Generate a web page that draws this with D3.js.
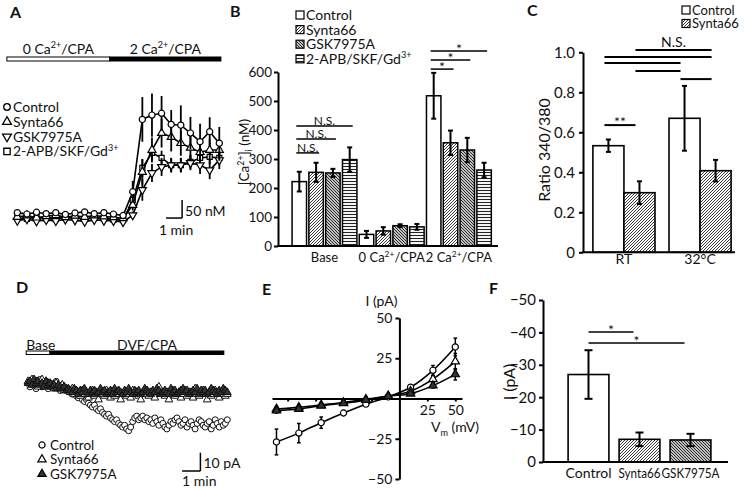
<!DOCTYPE html>
<html><head><meta charset="utf-8">
<script src="https://cdn.jsdelivr.net/npm/d3@7"></script>
<style>
body{margin:0;background:#fff}
text{font-family:Lato,'Open Sans',sans-serif;fill:#111}
</style>
</head><body>
<svg id="c" width="750" height="489"></svg>
<script>
// ---------------- DATA ----------------
// Panel A: [Ca2+]i time course (nM), sampled every 0.6 min
const timeA = [0,0.6,1.2,1.8,2.4,3.0,3.6,4.2,4.8,5.4,6.0,6.6,7.2,7.8,8.4,9.0,9.6,10.2,10.8,11.4,12.0,12.6];
const controlA    = [226,222,227,223,226,221,225,228,223,226,222,218,284,485,497,502,471,469,447,423,451,419];
const controlAErr = [6,5,6,5,6,5,6,5,6,5,6,6,30,62,60,48,40,55,45,50,40,45];
const synta66A    = [214,218,212,216,219,213,217,214,218,215,213,210,247,339,400,447,436,419,406,394,400,400];
const synta66AErr = [5,5,5,5,5,5,5,5,5,5,5,5,15,35,35,40,40,35,30,30,30,30];
const gskA        = [204,208,202,206,203,207,205,201,206,204,203,200,219,289,336,353,358,358,364,358,344,372];
const gskAErr     = [5,5,5,5,5,5,5,5,5,5,5,5,10,30,25,25,20,20,20,25,25,25];
const apbA        = [211,209,214,210,208,213,211,209,212,210,207,205,261,350,392,378,358,358,367,378,381,378];
const apbAErr     = [5,5,5,5,5,5,5,5,5,5,5,5,15,25,20,20,20,20,20,20,20,20];
const seriesLabelsA = ["Control","Synta66","GSK7975A","2-APB/SKF/Gd^{3+}"];

// Panel B: [Ca2+]i bar chart (nM)
const groupsB = ["Base","0 Ca^{2+}/CPA","2 Ca^{2+}/CPA"];
const seriesB = ["Control","Synta66","GSK7975A","2-APB/SKF/Gd^{3+}"];
const controlB = [222, 40, 518];   const controlBErr = [34, 12, 79];
const synta66B = [254, 52, 356];   const synta66BErr = [33, 13, 42];
const gskB     = [252, 70, 331];   const gskBErr     = [14, 5, 42];
const apbB     = [298, 66, 262];   const apbBErr     = [42, 10, 25];
const ticksB = [0,100,200,300,400,500,600];

// Panel C: Ratio 340/380
const conditionsC = ["RT","32°C"];
const seriesC = ["Control","Synta66"];
const controlC = [0.533, 0.67];  const controlCErr = [0.031, 0.162];
const synta66C = [0.298, 0.408]; const synta66CErr = [0.057, 0.054];
const ticksC = [0,0.2,0.4,0.6,0.8,1.0];

// Panel D: current time course (pA), sampled every 0.11 min
const controlD = [1,-1,2,0,-2,1,3,-1,0,2,-2,1,-1,0,2,-1,-3,0,
  -2,-3,-2,-4,-5,-4,-6,-7,-6,-8,-9,-8,-10,-11,-12,-11,-13,-14,-13,-15,-16,-17,-16,-18,-19,-20,-19,-21,-22,-23,-22,-24,-25,
  -23,-20,-18,-17,-19,-18,-17,-19,-18,-20,-19,-21,-18,-20,-22,-19,-21,-23,-24,-22,-20,-21,-19,-18,-20,-22,-21,-19,-23,-21,-20,-22,-24,-21,-19,-20,-22,-23,-21,-20,-24,-22,-19,-21,-23,-20,-22,-21,-19];
const synta66D = [2,1,3,0,2,-1,1,3,0,2,1,-1,0,-2,1,-1,-2,0,-3,-2,
  -3,-4,-2,-5,-3,-4,-6,-3,-5,-4,-7,-5,-3,-6,-4,-8,-5,-4,-6,-3,
  -5,-7,-4,-6,-5,-3,-8,-5,-4,-6,-5,-7,-3,-5,-4,-6,-8,-4,-5,-3,
  -6,-4,-5,-7,-3,-1,-5,-4,-6,-5,-8,-4,-3,-6,-5,-4,-7,-5,-3,-6,
  -4,-5,-7,-2,-5,-6,-4,-3,-5,-8,-4,-6,-5,-3,-4,-7,-5,-4,-6,-5];
const gskD = [1,2,0,3,1,2,0,1,-1,2,0,1,-1,0,-2,0,-1,-2,-1,-3,
  -2,-3,-4,-2,-3,-5,-3,-4,-2,-4,-5,-3,-4,-3,-5,-4,-2,-4,-3,-5,
  -4,-3,-5,-2,-4,-3,-4,-5,-3,-4,-2,-4,-5,-3,-4,-3,-5,-4,-2,-3,
  -4,-5,-3,-4,-2,-3,-5,-4,-3,-4,-5,-2,-4,-3,-5,-4,-3,-2,-4,-3,
  -5,-4,-3,-4,-2,-5,-3,-4,-3,-5,-4,-2,-3,-4,-5,-3,-4,-2,-3,-4];
const sampleIntervalD = 0.11;

// Panel E: I-V relationship
const voltageE = [-110,-90,-70,-50,-30,-10,10,30,50];
const controlE = [-27,-21.5,-15,-9,-3.5,1,7,17.5,32];   const controlEErr = [8,6,3.5,1.5,1,0.5,1,3,5.5];
const synta66E = [-6.5,-5.5,-4,-2.5,-0.5,1.5,4.5,12,23]; const synta66EErr = [1.5,1.2,1,0.8,0.5,0.5,1,2,5];
const gskE     = [-7.5,-6.5,-4.5,-3,-1,1.5,3,8,15];      const gskEErr = [1.5,1.2,1,0.8,0.5,0.5,1,1.5,3.5];

// Panel F: current at -110 mV
const conditionsF = ["Control","Synta66","GSK7975A"];
const currentF = [-27, -7, -6.8];
const currentFErr = [7.5, 2.1, 1.9];
const ticksF = [0,-10,-20,-30,-40,-50];

// ---------------- HELPERS ----------------
const svg = d3.select('#c');
const defs = svg.append('defs');
function pattern(id,w,h,d,sw){
  const p = defs.append('pattern').attr('id',id).attr('patternUnits','userSpaceOnUse').attr('width',w).attr('height',h);
  p.append('rect').attr('width',w).attr('height',h).attr('fill','#fff');
  p.append('path').attr('d',d).attr('stroke','#222').attr('stroke-width',sw).attr('fill','none');
}
pattern('fwd',3,3,'M-1,1 l2,-2 M0,3 l3,-3 M2,4 l2,-2',0.9);
pattern('back',3,3,'M-1,2 l2,2 M0,0 l3,3 M2,-1 l2,2',1.1);
pattern('horiz',4,3,'M0,1.5 H4',1.1);
const fills = {"Control":"#fff","Synta66":"url(#fwd)","GSK7975A":"url(#back)","2-APB/SKF/Gd^{3+}":"url(#horiz)"};

function rich(sel,str,size){
  const re=/(\^|_)\{([^}]*)\}/g; let last=0,m,off=0;
  const add=(t,small,dy)=>{const ts=sel.append('tspan').text(t); if(small) ts.attr('font-size',size*0.65); if(dy) ts.attr('dy',dy);};
  while((m=re.exec(str))){
    if(m.index>last){add(str.slice(last,m.index),false,-off);off=0;}
    const d = m[1]==='^' ? -size*0.4 : size*0.25;
    add(m[2],true,d-off); off=d; last=re.lastIndex;
  }
  if(last<str.length){add(str.slice(last),false,-off);}
  return sel;
}
function txt(x,y,str,size,anchor,extra){
  const t = svg.append('text').attr('x',x).attr('y',y).attr('font-size',size).attr('text-anchor',anchor||'start');
  if(extra) extra(t);
  return rich(t,str,size);
}
function vline(g,x,y1,y2,sw,cap){
  g.append('line').attr('x1',x).attr('x2',x).attr('y1',y1).attr('y2',y2).attr('stroke','#000').attr('stroke-width',sw);
  if(cap){[y1,y2].forEach(y=>g.append('line').attr('x1',x-cap).attr('x2',x+cap).attr('y1',y).attr('y2',y).attr('stroke','#000').attr('stroke-width',sw));}
}
function hline(g,x1,x2,y,sw){g.append('line').attr('x1',x1).attr('x2',x2).attr('y1',y).attr('y2',y).attr('stroke','#000').attr('stroke-width',sw);}
function styleAxis(g){
  g.select('.domain').attr('stroke','#000').attr('stroke-width',2);
  g.selectAll('.tick line').attr('stroke','#000').attr('stroke-width',2);
  g.selectAll('.tick text').attr('font-size',14).attr('font-family',"Lato,'Open Sans',sans-serif").attr('fill','#111');
}
const sym = t=>d3.symbol().type(t);

// Panel letters
[["A",10,18],["B",230,17],["C",527,16],["D",16,293],["E",262,295],["F",489,294]].forEach(([l,x,y])=>{
  svg.append('text').attr('x',x).attr('y',y).attr('font-size',16).attr('font-weight','bold').attr('font-family',"'Liberation Sans',Arial,sans-serif").text(l);
});

// ---------------- PANEL A ----------------
{
  const xA = d3.scaleLinear().domain([0,12.6]).range([17.3,219.3]);
  const yA = d3.scaleLinear().domain([200,500]).range([222,114]);
  const g = svg.append('g');
  const protocolA = [{label:"0 Ca^{2+}/CPA",start:-0.65,end:5.77,fill:"#fff"},{label:"2 Ca^{2+}/CPA",start:5.77,end:12.7,fill:"#000"}];
  protocolA.forEach(p=>{
    g.append('rect').attr('x',xA(p.start)).attr('y',57).attr('width',xA(p.end)-xA(p.start)).attr('height',4).attr('fill',p.fill).attr('stroke','#000').attr('stroke-width',1);
    txt((xA(p.start)+xA(p.end))/2,54,p.label,14,'middle');
  });
  const series = [
    {v:apbA,e:apbAErr,s:d3.symbolSquare,size:26},
    {v:gskA,e:gskAErr,s:d3.symbolTriangle,size:28,rot:180},
    {v:synta66A,e:synta66AErr,s:d3.symbolTriangle,size:28},
    {v:controlA,e:controlAErr,s:d3.symbolCircle,size:30}
  ];
  series.forEach(S=>{
    const pts = timeA.map((t,i)=>({t,v:S.v[i],e:S.e[i]}));
    pts.forEach(d=>vline(g,xA(d.t),yA(d.v-d.e),yA(d.v+d.e),1.8,0));
    g.append('path').datum(pts).attr('d',d3.line().x(d=>xA(d.t)).y(d=>yA(d.v))).attr('fill','none').attr('stroke','#000').attr('stroke-width',1.6);
    g.selectAll(null).data(pts).enter().append('path').attr('d',sym(S.s).size(S.size))
      .attr('transform',d=>`translate(${xA(d.t)},${yA(d.v)})${S.rot?' rotate(180)':''}`)
      .attr('fill','#fff').attr('stroke','#000').attr('stroke-width',1.2);
  });
  const legSyms = [[d3.symbolCircle,0],[d3.symbolTriangle,0],[d3.symbolTriangle,180],[d3.symbolSquare,0]];
  seriesLabelsA.forEach((l,i)=>{
    const y = 107+i*14.8;
    g.append('path').attr('d',sym(legSyms[i][0]).size(i===3?40:34)).attr('transform',`translate(7,${y}) rotate(${legSyms[i][1]})`).attr('fill','#fff').attr('stroke','#000').attr('stroke-width',1.3);
    txt(13,y+5,l,14,'start');
  });
  const t0=9.28, c0=211;
  hline(g,xA(t0),xA(t0+1),yA(c0),1.5);
  vline(g,xA(t0+1),yA(c0),yA(c0+50),1.5,0);
  txt(xA(t0+1)+3,216,"50 nM",14,'start');
  txt((xA(t0)+xA(t0+1))/2+2,235,"1 min",14,'middle');
}

// ---------------- PANEL B ----------------
{
  const yB = d3.scaleLinear().domain([0,600]).range([246,72]);
  const x0B = d3.scaleBand().domain(groupsB).range([290.9,492.5]).padding(0);
  const x1B = d3.scaleBand().domain(seriesB).range([0,x0B.bandwidth()]).paddingInner(0.14).paddingOuter(0.07);
  const valsB = [controlB,synta66B,gskB,apbB], errsB=[controlBErr,synta66BErr,gskBErr,apbBErr];
  const g = svg.append('g');
  groupsB.forEach((grp,gi)=>{
    seriesB.forEach((s,si)=>{
      const v=valsB[si][gi], e=errsB[si][gi], x=x0B(grp)+x1B(s), w=x1B.bandwidth();
      g.append('rect').attr('x',x).attr('y',yB(v)).attr('width',w).attr('height',yB(0)-yB(v)).attr('fill',fills[s]).attr('stroke','#000').attr('stroke-width',1.5);
      vline(g,x+w/2,yB(v-e),yB(v+e),2,2.5);
    });
    txt(x0B(grp)+x0B.bandwidth()/2,262,grp,13,'middle');
  });
  const ax = g.append('g').attr('transform','translate(278,0)').call(d3.axisLeft(yB).tickValues(ticksB).tickSize(4).tickSizeOuter(0).tickPadding(2));
  styleAxis(ax);
  ax.selectAll('.tick text').attr('font-size',13.5);
  hline(g,277,498,246,2);
  txt(0,0,"[Ca^{2+}]_{i} (nM)",13.5,'middle',t=>t.attr('transform','translate(249,152) rotate(-90)'));
  const sigB = [
    {group:"Base",a:"Control",b:"2-APB/SKF/Gd^{3+}",level:414,label:"N.S."},
    {group:"Base",a:"Control",b:"GSK7975A",level:369,label:"N.S."},
    {group:"Base",a:"Control",b:"Synta66",level:321,label:"N.S."},
    {group:"2 Ca^{2+}/CPA",a:"Control",b:"2-APB/SKF/Gd^{3+}",level:672,label:"*"},
    {group:"2 Ca^{2+}/CPA",a:"Control",b:"GSK7975A",level:641,label:"*"},
    {group:"2 Ca^{2+}/CPA",a:"Control",b:"Synta66",level:610,label:"*"}
  ];
  sigB.forEach(s=>{
    const xa=x0B(s.group)+x1B(s.a)+x1B.bandwidth()/2-3, xb=x0B(s.group)+x1B(s.b)+x1B.bandwidth()/2+3, y=yB(s.level);
    hline(g,xa,xb,y,1.5);
    if(s.label==="*") txt((xa+xb)/2,y+3,"*",14,'middle'); else txt((xa+xb)/2,y-1,s.label,12,'middle');
  });
  seriesB.forEach((s,i)=>{
    const y=15+i*14.6;
    g.append('rect').attr('x',296).attr('y',y-4).attr('width',8).attr('height',8).attr('fill',fills[s]).attr('stroke','#000').attr('stroke-width',1.2);
    txt(306,y+5,s,14,'start');
  });
}

// ---------------- PANEL C ----------------
{
  const yC = d3.scaleLinear().domain([0,1]).range([252.3,52.3]);
  const x0C = d3.scaleBand().domain(conditionsC).range([583,741]).paddingInner(0.184).paddingOuter(0.13);
  const x1C = d3.scaleBand().domain(seriesC).range([0,x0C.bandwidth()]).padding(0);
  const vals=[controlC,synta66C], errs=[controlCErr,synta66CErr];
  const g = svg.append('g');
  conditionsC.forEach((c,ci)=>{
    seriesC.forEach((s,si)=>{
      const v=vals[si][ci], e=errs[si][ci], x=x0C(c)+x1C(s), w=x1C.bandwidth();
      g.append('rect').attr('x',x).attr('y',yC(v)).attr('width',w).attr('height',yC(0)-yC(v)).attr('fill',fills[s]).attr('stroke','#000').attr('stroke-width',1.6);
      vline(g,x+w/2,yC(v-e),yC(v+e),2,2.5);
    });
    txt(x0C(c)+x0C.bandwidth()/2,264,c,14,'middle');
  });
  const ax = g.append('g').attr('transform','translate(583,0)').call(d3.axisLeft(yC).tickValues(ticksC).tickSize(4).tickSizeOuter(0).tickPadding(4).tickFormat(d=>d===0?"0":d3.format(".1f")(d)));
  styleAxis(ax);
  ax.selectAll('.tick text').attr('font-size',15);
  hline(g,582,735,252.3,2);
  txt(0,0,"Ratio 340/380",16,'middle',t=>t.attr('transform','translate(550,150) rotate(-90)'));
  const cx=(c,s)=>x0C(c)+x1C(s)+x1C.bandwidth()/2;
  const sigC = [
    {a:["RT","Synta66"],b:["32°C","Synta66"],level:1.011,label:"N.S."},
    {a:["RT","Control"],b:["32°C","Synta66"],level:0.976,label:""},
    {a:["RT","Control"],b:["32°C","Control"],level:0.946,label:""},
    {a:["RT","Synta66"],b:["32°C","Control"],level:0.906,label:""},
    {a:["32°C","Control"],b:["32°C","Synta66"],level:0.866,label:""},
    {a:["RT","Control"],b:["RT","Synta66"],level:0.636,label:"**"}
  ];
  sigC.forEach(s=>{
    const xa=cx(...s.a)-4, xb=cx(...s.b)-4, y=yC(s.level);
    hline(g,xa,xb,y,2);
    if(s.label==="**") txt((xa+xb)/2,y+2,"**",14,'middle');
    else if(s.label) txt((xa+xb)/2,y-3,s.label,14,'middle');
  });
  seriesC.forEach((s,i)=>{
    const y=10+i*13.5;
    g.append('rect').attr('x',682).attr('y',y-4).attr('width',8).attr('height',8).attr('fill',fills[s]).attr('stroke','#000').attr('stroke-width',1.2);
    txt(692,y+4.5,s,13,'start');
  });
}

// ---------------- PANEL D ----------------
{
  const xD = d3.scaleLinear().domain([0,10.78]).range([28,225.3]);
  const yD = d3.scaleLinear().domain([0,-25]).range([385,430.75]);
  const g = svg.append('g');
  const protocolD = [{label:"Base",start:-0.1,end:1.2,fill:"#fff",labelT:-0.1,anchor:'start'},{label:"DVF/CPA",start:1.2,end:10.7,fill:"#000",labelT:6.5,anchor:'middle'}];
  protocolD.forEach(p=>{
    g.append('rect').attr('x',xD(p.start)).attr('y',351).attr('width',xD(p.end)-xD(p.start)).attr('height',3.5).attr('fill',p.fill).attr('stroke','#000').attr('stroke-width',1);
  });
  protocolD.forEach(p=>txt(xD(p.labelT),350,p.label,14,p.anchor));
  const series=[
    {v:controlD,s:d3.symbolCircle,size:28,fill:'#fff'},
    {v:synta66D,s:d3.symbolTriangle,size:26,fill:'#fff'},
    {v:gskD,s:d3.symbolTriangle,size:26,fill:'#333'}
  ];
  series.forEach(S=>{
    g.selectAll(null).data(S.v).enter().append('path').attr('d',sym(S.s).size(S.size))
      .attr('transform',(d,i)=>`translate(${xD(i*sampleIntervalD)},${yD(d)})`)
      .attr('fill',S.fill).attr('stroke','#111').attr('stroke-width',1);
  });
  const legD=[[d3.symbolCircle,'#fff',"Control"],[d3.symbolTriangle,'#fff',"Synta66"],[d3.symbolTriangle,'#333',"GSK7975A"]];
  legD.forEach((l,i)=>{
    const y=445+i*14.5;
    g.append('path').attr('d',sym(l[0]).size(30)).attr('transform',`translate(42,${y})`).attr('fill',l[1]).attr('stroke','#000').attr('stroke-width',1.2);
    txt(50,y+4.5,l[2],13.5,'start');
  });
  const t0=8.42, c0=-47;
  hline(g,xD(t0),xD(t0+1),yD(c0),1.5);
  vline(g,xD(t0+1),yD(c0),yD(c0+10),1.5,0);
  txt(xD(t0+1)+3,468,"10 pA",14,'start');
  txt(xD(t0),486,"1 min",14,'start');
}

// ---------------- PANEL E ----------------
{
  const xE = d3.scaleLinear().domain([-114,56]).range([272,462]);
  const yE = d3.scaleLinear().domain([-50,50]).range([479,318]);
  const g = svg.append('g');
  const axY = g.append('g').attr('transform',`translate(${xE(0)},0)`).call(d3.axisLeft(yE).tickValues([-50,-25,25,50]).tickSize(4).tickSizeOuter(0).tickPadding(3));
  styleAxis(axY);
  const axX = g.append('g').attr('transform',`translate(0,${yE(0)})`).call(d3.axisBottom(xE).tickValues([-100,-75,-50,-25,25,50]).tickSize(3).tickSizeOuter(0).tickPadding(4).tickFormat(d=>d>0?d:""));
  styleAxis(axX);
  txt(xE(0)-18,306,"I (pA)",14,'middle');
  txt(455,432,"V_{m} (mV)",14,'middle');
  const series=[
    {v:controlE,e:controlEErr,s:d3.symbolCircle,fill:'#fff'},
    {v:synta66E,e:synta66EErr,s:d3.symbolTriangle,fill:'#fff'},
    {v:gskE,e:gskEErr,s:d3.symbolTriangle,fill:'#333'}
  ];
  series.forEach(S=>{
    const pts=voltageE.map((V,i)=>({V,v:S.v[i],e:S.e[i]}));
    pts.forEach(d=>vline(g,xE(d.V),yE(d.v-d.e),yE(d.v+d.e),1.5,1.8));
    g.append('path').datum(pts).attr('d',d3.line().curve(d3.curveCatmullRom).x(d=>xE(d.V)).y(d=>yE(d.v))).attr('fill','none').attr('stroke','#000').attr('stroke-width',1.6);
    g.selectAll(null).data(pts).enter().append('path').attr('d',sym(S.s).size(30))
      .attr('transform',d=>`translate(${xE(d.V)},${yE(d.v)})`).attr('fill',S.fill).attr('stroke','#000').attr('stroke-width',1.2);
  });
}

// ---------------- PANEL F ----------------
{
  const yF = d3.scaleLinear().domain([0,-50]).range([462,300]);
  const xF = d3.scaleBand().domain(conditionsF).range([563,716]).paddingInner(0.2).paddingOuter(0.1);
  const labelWidthsF = {"Control":46,"Synta66":42,"GSK7975A":58};
  const g = svg.append('g');
  conditionsF.forEach((c,i)=>{
    const v=currentF[i], e=currentFErr[i], x=xF(c), w=xF.bandwidth();
    g.append('rect').attr('x',x).attr('y',yF(v)).attr('width',w).attr('height',yF(0)-yF(v)).attr('fill',fills[c]).attr('stroke','#000').attr('stroke-width',1.6);
    vline(g,x+w/2,yF(v-e),yF(v+e),2,4);
    txt(x+w/2,478,c,13.5,'middle',t=>t.attr('textLength',labelWidthsF[c]).attr('lengthAdjust','spacingAndGlyphs'));
  });
  const ax=g.append('g').attr('transform','translate(543,0)').call(d3.axisLeft(yF).tickValues(ticksF).tickSize(4).tickSizeOuter(0).tickPadding(3));
  styleAxis(ax);
  ax.selectAll('.tick text').attr('font-size',15);
  hline(g,542,728,462,2);
  txt(0,0,"I (pA)",16,'middle',t=>t.attr('transform','translate(515,382) rotate(-90)'));
  const sigF=[{a:"Control",b:"Synta66",level:-40.1,label:"*"},{a:"Control",b:"GSK7975A",level:-36.7,label:"*"}];
  sigF.forEach(s=>{
    const xa=xF(s.a)+xF.bandwidth()/2, xb=xF(s.b)+xF.bandwidth()/2-6, y=yF(s.level);
    hline(g,xa,xb,y,1.5);
    txt((xa+xb)/2,y+3,"*",14,'middle');
  });
}
</script>
</body></html>
